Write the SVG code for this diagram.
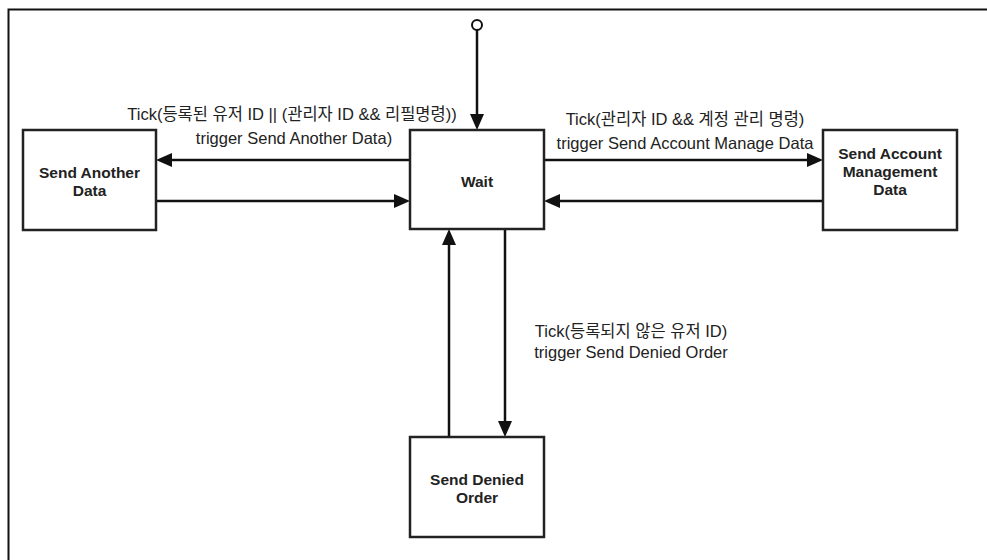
<svg xmlns="http://www.w3.org/2000/svg" width="987" height="560" viewBox="0 0 987 560">
<style>
.frame{stroke:#111;stroke-width:2;fill:none}
.box{fill:#fff;stroke:#222;stroke-width:2.5}
.title{font-family:"Liberation Sans",Arial,sans-serif;font-size:15.5px;font-weight:bold;fill:#222;text-anchor:middle}
.lbl{font-family:"Liberation Sans","Noto Sans CJK KR",sans-serif;font-size:16.5px;fill:#222;text-anchor:middle}
.edge{stroke:#111;stroke-width:2.5;fill:none}
</style>
<defs>
<marker id="ah" viewBox="0 0 16 14" refX="11" refY="7" markerWidth="16" markerHeight="14" markerUnits="userSpaceOnUse" orient="auto">
<path d="M0,0 L16,7 L0,14 z" fill="#111"/>
</marker>
</defs>
<rect width="987" height="560" fill="#fff"/>
<path class="frame" d="M8.5,560 L8.5,9.5 L987,9.5"/>
<g id="start">
<circle cx="477" cy="25" r="5" fill="#fff" stroke="#111" stroke-width="2"/>
</g>
<g id="connectors">
<path class="edge" d="M477,30 L477,125" marker-end="url(#ah)"/>
<path class="edge" d="M410,160 L161,160" marker-end="url(#ah)"/>
<path class="edge" d="M156,201 L405,201" marker-end="url(#ah)"/>
<path class="edge" d="M544,160 L818,160" marker-end="url(#ah)"/>
<path class="edge" d="M823,201 L549,201" marker-end="url(#ah)"/>
<path class="edge" d="M449,437 L449,234" marker-end="url(#ah)"/>
<path class="edge" d="M505,229 L505,432" marker-end="url(#ah)"/>
<text class="lbl" x="292" y="120">Tick(등록된 유저 ID || (관리자 ID &amp;&amp; 리필명령))</text>
<text class="lbl" x="294" y="144">trigger Send Another Data)</text>
<text class="lbl" x="685" y="125">Tick(관리자 ID &amp;&amp; 계정 관리 명령)</text>
<text class="lbl" x="685" y="149">trigger Send Account Manage Data</text>
<text class="lbl" x="631" y="337">Tick(등록되지 않은 유저 ID)</text>
<text class="lbl" x="631" y="358">trigger Send Denied Order</text>
</g>
<g id="wait">
<rect class="box" x="410" y="130" width="134" height="99"/>
<text class="title" x="477" y="187">Wait</text>
</g>
<g id="send-another-data">
<rect class="box" x="23" y="130" width="133" height="100"/>
<text class="title" x="89.5" y="178">Send Another</text>
<text class="title" x="89.5" y="196">Data</text>
</g>
<g id="send-account-management-data">
<rect class="box" x="823" y="130" width="134" height="100"/>
<text class="title" x="890" y="159">Send Account</text>
<text class="title" x="890" y="177">Management</text>
<text class="title" x="890" y="195">Data</text>
</g>
<g id="send-denied-order">
<rect class="box" x="410" y="437" width="134" height="100"/>
<text class="title" x="477" y="485">Send Denied</text>
<text class="title" x="477" y="503">Order</text>
</g>
</svg>
